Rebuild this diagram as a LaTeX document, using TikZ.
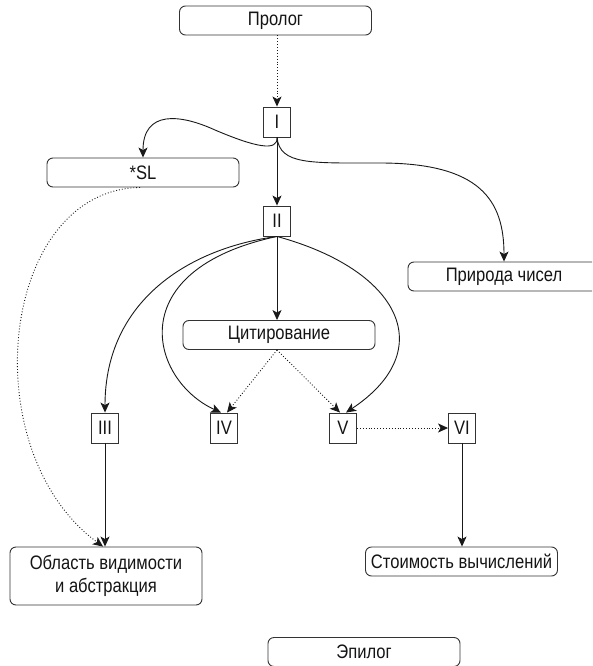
\documentclass[tikz,border=0pt]{standalone}
\usepackage{fontspec}
\setmainfont{Liberation Sans}[FakeStretch=0.85]
\usetikzlibrary{arrows.meta}
\begin{document}
\begin{tikzpicture}[x=1pt,y=-1pt,
  every node/.style={font=\fontsize{19.5}{23}\selectfont, text=black!92},
  rbox/.style={draw=black!80, line width=0.9pt, rounded corners=6pt, minimum width=192pt, minimum height=29pt, inner sep=0pt, align=center},
  sbox/.style={draw=black!80, line width=0.9pt, minimum width=27pt, minimum height=30pt, inner sep=0pt},
  arr/.style={-{Stealth[length=10pt,width=9pt,inset=2.5pt]}, line width=0.9pt, draw=black!90},
  darr/.style={arr, dotted}]
\useasboundingbox (0,0) rectangle (592,666);
\clip (0,0) rectangle (592,666);
\node[rbox] (pro) at (275.5,20.5) {Пролог};
\node[sbox] (n1) at (277,122) {I};
\node[rbox] (sl) at (143,172.5) {*SL};
\node[sbox] (n2) at (277,221) {II};
\node[rbox] (nat) at (504,276.5) {Природа чисел};
\node[rbox] (cit) at (279,335) {Цитирование};
\node[sbox] (n3) at (105,428) {III};
\node[sbox] (n4) at (224,428) {IV};
\node[sbox] (n5) at (343,428) {V};
\node[sbox] (n6) at (462,428) {VI};
\node[rbox, minimum height=58pt] (area) at (106,576) {Область видимости\\и абстракция};
\node[rbox] (cost) at (461.5,561.5) {Стоимость вычислений};
\node[rbox] (epi) at (364,652) {Эпилог};
\draw[darr] (n1.north |- pro.south) -- (n1.north);
\draw[arr] (n1.south) .. controls (278,152) and (255,147) .. (215,130) .. controls (180,114) and (143,110) .. (sl.north);
\draw[arr] (n1.south) .. controls (280,165) and (310,163) .. (380,163) .. controls (480,163) and (504,200) .. (nat.north);
\draw[arr] (n1.south) -- (n2.north);
\draw[arr] (n2.south) -- (n2.south |- cit.north);
\draw[arr] (n2.south) .. controls (190,248) and (105,300) .. (n3.north);
\draw[arr] (n2.south) .. controls (120,270) and (150,380) .. ([xshift=-3pt]n4.north);
\draw[arr] (n2.south) .. controls (400,270) and (440,350) .. ([xshift=3pt]n5.north);
\draw[darr] (n2.south |- cit.south) -- ([xshift=3pt]n4.north);
\draw[darr] (n2.south |- cit.south) -- ([xshift=-3pt]n5.north);
\draw[darr] (n5.east) -- (n6.west);
\draw[arr] (n6.south) -- (n6.south |- cost.north);
\draw[arr] (n3.south) -- (n3.south |- area.north);
\draw[darr] ([xshift=-3pt]sl.south) .. controls (0,190) and (-28,450) .. ([xshift=-3pt]area.north);
\end{tikzpicture}
\end{document}
